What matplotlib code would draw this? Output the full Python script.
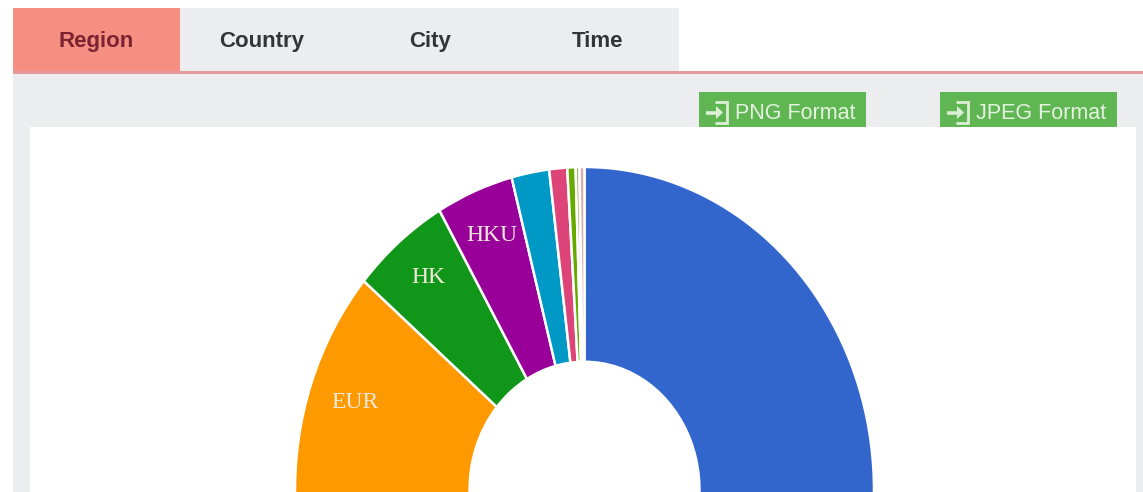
import numpy as np
import matplotlib
matplotlib.use("Agg")
import matplotlib.pyplot as plt
from matplotlib.patches import Rectangle

# Data
tabs = ["Region", "Country", "City", "Time"]
buttons = ["PNG Format", "JPEG Format"]
slice_labels = ["", "EUR", "HK", "HKU", "", "", "", "", ""]
slice_values = [74.6, 11.6, 5.45, 4.3, 2.1, 1.0, 0.46, 0.21, 0.28]
slice_colors = ["#3366cc", "#ff9900", "#109618", "#990099", "#0099c6",
                "#dd4477", "#66aa00", "#a8a860", "#d8b0b0"]

W, H = 1143, 492
fig = plt.figure(figsize=(W / 100, H / 100), dpi=100, facecolor="white")

# Page chrome, in pixel coordinates
bg = fig.add_axes([0, 0, 1, 1])
bg.set_xlim(0, W)
bg.set_ylim(H, 0)
bg.axis("off")

def box(x0, y0, x1, y1, color):
    bg.add_patch(Rectangle((x0, y0), x1 - x0, y1 - y0, fc=color, ec="none"))

GREY = "#ecedef"
GREEN = "#5fb653"
box(13, 8, 679, 72, GREY)
box(13, 8, 180, 72, "#f48f82")
box(13, 74, W, H, GREY)
box(13, 71, W, 74, "#e59a9c")

tab_x = [96, 262, 430, 597]
for i, (t, x) in enumerate(zip(tabs, tab_x)):
    bg.text(x, 47, t, ha="center", va="baseline", family="Liberation Sans",
            weight="bold", fontsize=16, color="#7c2230" if i == 0 else "#333338")

btn_x = [(699, 866), (940, 1117)]
for t, (x0, x1) in zip(buttons, btn_x):
    box(x0, 92, x1, 128, GREEN)
    ix = x0 + 7
    col = "#dceed6"
    # log-in icon
    bg.plot([ix + 9, ix + 21, ix + 21, ix + 9], [102, 102, 123, 123], color=col, lw=2.0,
            solid_joinstyle="miter", solid_capstyle="butt")
    bg.plot([ix, ix + 12], [112.5, 112.5], color=col, lw=2.6, solid_capstyle="butt")
    bg.fill([ix + 10, ix + 17, ix + 10], [106, 112.5, 119], color=col, lw=0)
    bg.text(x0 + 36, 119, t, ha="left", va="baseline", family="Liberation Sans",
            fontsize=15.5, color="#e4f3df")

box(30, 127, 1136, H, "white")

# Donut: slightly stretched vertically, cropped by the card
cx, cy, rx, ry = 584.5, 490, 289.5, 323
left, right, top, bottom = 30, 1136, 127, H
ax = fig.add_axes([left / W, 1 - bottom / H, (right - left) / W, (bottom - top) / H])
wedges, _ = ax.pie(slice_values, colors=slice_colors, startangle=90, counterclock=False,
                   radius=1, wedgeprops=dict(width=0.603, edgecolor="white", linewidth=1.8))
ax.set_aspect("auto")
ax.set_xlim((left - cx) / rx, (right - cx) / rx)
ax.set_ylim((cy - bottom) / ry, (cy - top) / ry)
ax.axis("off")
ax.patch.set_alpha(0)

# label nudges in pixels (right, up)
nudge = {"EUR": (0, 0), "HK": (-1, 6), "HKU": (-1, 4)}
for w, lab in zip(wedges, slice_labels):
    if lab:
        a = np.deg2rad((w.theta1 + w.theta2) / 2)
        dx, dy = nudge[lab]
        ax.text(0.85 * np.cos(a) + 0.008 + dx / rx, 0.85 * np.sin(a) - 0.012 + dy / ry, lab,
                ha="center", va="center",
                family="Liberation Serif", fontsize=17, color="#f0e8d8")

fig.savefig("out.png", dpi=100)
